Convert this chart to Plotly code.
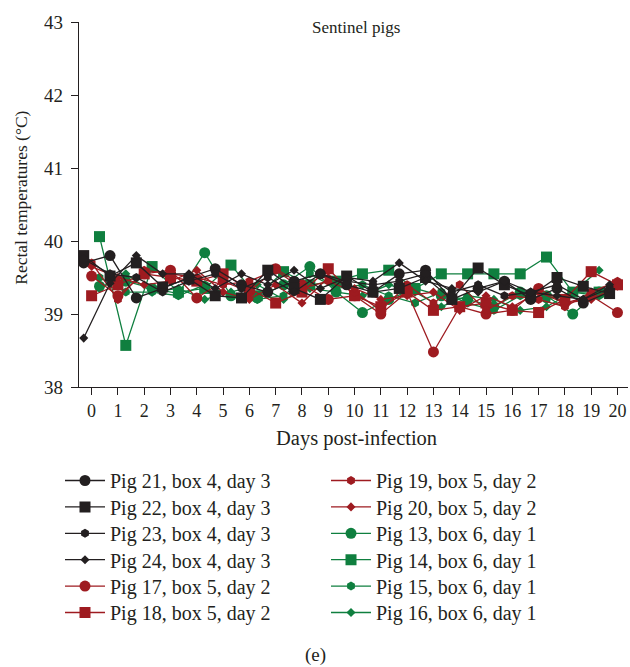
import plotly.graph_objects as go

# Sampling days and plotting offsets per box (boxes are nudged apart on x)
days = list(range(21))
offset_box4 = -0.3
offset_box5 = 0.0
offset_box6 = 0.3

# Box 4 (infected on day 3) - black
pig21 = [39.70, 39.80, 39.22, 39.35, 39.50, 39.62, 39.40, 39.30, 39.45, 39.55, 39.40,
         39.30, 39.55, 39.60, 39.20, 39.35, 39.45, 39.20, 39.35, 39.15, 39.30]
pig22 = [39.80, 39.52, 39.70, 39.37, 39.48, 39.25, 39.22, 39.60, 39.35, 39.20, 39.52,
         39.30, 39.35, 39.50, 39.20, 39.63, 39.40, 39.25, 39.50, 39.38, 39.28]
pig23 = [39.75, 39.55, 39.50, 39.30, 39.45, 39.55, 39.35, 39.50, 39.30, 39.55, 39.45,
         39.40, 39.45, 39.55, 39.30, 39.40, 39.25, 39.30, 39.40, 39.20, 39.35]
pig24 = [38.67, 39.42, 39.80, 39.55, 39.55, 39.35, 39.55, 39.40, 39.60, 39.35, 39.50,
         39.45, 39.70, 39.45, 39.35, 39.30, 39.45, 39.30, 39.25, 39.20, 39.40]

# Box 5 (infected on day 2) - red
pig17 = [39.52, 39.25, 39.55, 39.60, 39.22, 39.45, 39.30, 39.62, 39.40, 39.20, 39.25,
         39.00, 39.30, 38.48, 39.10, 39.00, 39.05, 39.35, 39.15, 39.25, 39.02]
pig18 = [39.25, 39.40, 39.55, 39.50, 39.45, 39.55, 39.35, 39.15, 39.30, 39.62, 39.25,
         39.10, 39.30, 39.05, 39.10, 39.15, 39.05, 39.02, 39.20, 39.58, 39.40]
pig19 = [39.70, 39.20, 39.60, 39.55, 39.50, 39.40, 39.45, 39.60, 39.35, 39.45, 39.30,
         39.05, 39.40, 39.15, 39.40, 39.05, 39.25, 39.20, 39.10, 39.30, 39.45]
pig20 = [39.65, 39.50, 39.40, 39.45, 39.60, 39.30, 39.20, 39.40, 39.15, 39.50, 39.35,
         39.20, 39.25, 39.30, 39.05, 39.25, 39.10, 39.30, 39.15, 39.20, 39.38]

# Box 6 (infected on day 1) - green
pig13 = [39.38, 39.45, 39.35, 39.28, 39.84, 39.25, 39.22, 39.40, 39.65, 39.30, 39.02,
         39.20, 39.35, 39.25, 39.20, 39.10, 39.30, 39.25, 39.00, 39.30]
pig14 = [40.06, 38.57, 39.65, 39.30, 39.35, 39.67, 39.25, 39.58, 39.40, 39.45, 39.55,
         39.60, 39.35, 39.55, 39.55, 39.55, 39.55, 39.78, 39.30, 39.30]
pig15 = [39.50, 39.30, 39.30, 39.25, 39.40, 39.25, 39.20, 39.25, 39.55, 39.35, 39.40,
         39.25, 39.15, 39.30, 39.15, 39.05, 39.25, 39.20, 39.30, 39.25]
pig16 = [39.35, 39.55, 39.30, 39.35, 39.20, 39.30, 39.40, 39.20, 39.35, 39.30, 39.25,
         39.40, 39.30, 39.10, 39.25, 39.20, 39.05, 39.10, 39.30, 39.60]

x_ticks = list(range(0, 21))
y_ticks = [38, 39, 40, 41, 42, 43]

BLACK = "#231f20"
RED = "#9e1b20"
GREEN = "#0f7f3f"
FONT = "Liberation Serif"

fig = go.Figure()

# (name, values, x offset, colour, symbol, size, legend column, legend row)
series = [
    ("Pig 13, box 6, day 1", pig13, offset_box6, GREEN, "circle", 11, 1, 2),
    ("Pig 14, box 6, day 1", pig14, offset_box6, GREEN, "square", 11, 1, 3),
    ("Pig 15, box 6, day 1", pig15, offset_box6, GREEN, "hexagon", 9, 1, 4),
    ("Pig 16, box 6, day 1", pig16, offset_box6, GREEN, "diamond", 7, 1, 5),
    ("Pig 17, box 5, day 2", pig17, offset_box5, RED, "circle", 11, 0, 4),
    ("Pig 18, box 5, day 2", pig18, offset_box5, RED, "square", 11, 0, 5),
    ("Pig 19, box 5, day 2", pig19, offset_box5, RED, "hexagon", 9, 1, 0),
    ("Pig 20, box 5, day 2", pig20, offset_box5, RED, "diamond", 7, 1, 1),
    ("Pig 21, box 4, day 3", pig21, offset_box4, BLACK, "circle", 11, 0, 0),
    ("Pig 22, box 4, day 3", pig22, offset_box4, BLACK, "square", 11, 0, 1),
    ("Pig 23, box 4, day 3", pig23, offset_box4, BLACK, "hexagon", 9, 0, 2),
    ("Pig 24, box 4, day 3", pig24, offset_box4, BLACK, "diamond", 7, 0, 3),
]

# Legend grid: two columns, six rows, one legend box per entry
col_left = [60, 326]
row_top0 = 461
row_step = 26.4

legend_boxes = {}
for i, (name, vals, off, col, sym, size, lcol, lrow) in enumerate(series):
    key = "legend" if i == 0 else f"legend{i + 1}"
    legend_boxes[key] = dict(
        xref="container", yref="container", xanchor="left", yanchor="top",
        x=col_left[lcol] / 630, y=1 - (row_top0 + lrow * row_step) / 667,
        font=dict(family=FONT, size=20, color=BLACK), bgcolor="rgba(0,0,0,0)",
        itemwidth=40,
    )
    xs = [d + off for d in days[:len(vals)]]
    fig.add_trace(go.Scatter(
        x=xs, y=vals, name=name, mode="lines+markers",
        line=dict(color=col, width=1.3),
        marker=dict(symbol=sym, size=size, color=col, line=dict(width=0)),
        legend=key,
    ))

axis_common = dict(
    showline=True, linecolor=BLACK, linewidth=1.2, ticks="outside",
    ticklen=7, tickwidth=1.2, tickcolor=BLACK, showgrid=False, zeroline=False,
)

fig.update_xaxes(range=[-0.48, 20.4], tickvals=x_ticks,
                 tickfont=dict(family=FONT, size=18, color=BLACK), **axis_common)
fig.update_yaxes(range=[38, 43], tickvals=y_ticks, ticklabelstandoff=4,
                 tickfont=dict(family=FONT, size=19, color=BLACK), **axis_common)

fig.update_layout(
    width=630, height=667,
    margin=dict(l=79, r=2, t=22, b=280, autoexpand=False),
    paper_bgcolor="white", plot_bgcolor="white",
    showlegend=True,
    annotations=[
        dict(text="Sentinel pigs", xref="paper", yref="paper", x=0.505, y=0.985,
             xanchor="center", yanchor="middle", showarrow=False,
             font=dict(family=FONT, size=17, color=BLACK)),
        dict(text="Rectal temperatures (°C)", xref="paper", yref="paper",
             x=-0.106, y=0.518, xanchor="center", yanchor="middle", textangle=-90,
             showarrow=False, font=dict(family=FONT, size=17.5, color=BLACK)),
        dict(text="Days post-infection", xref="paper", yref="paper", x=0.505, y=-0.142,
             xanchor="center", yanchor="middle", showarrow=False,
             font=dict(family=FONT, size=20.5, color=BLACK)),
        dict(text="(e)", xref="paper", yref="paper", x=0.431, y=-0.735,
             xanchor="center", yanchor="middle", showarrow=False,
             font=dict(family=FONT, size=19, color=BLACK)),
    ],
)
fig.update_layout(**legend_boxes)

fig.write_html("out.html")
